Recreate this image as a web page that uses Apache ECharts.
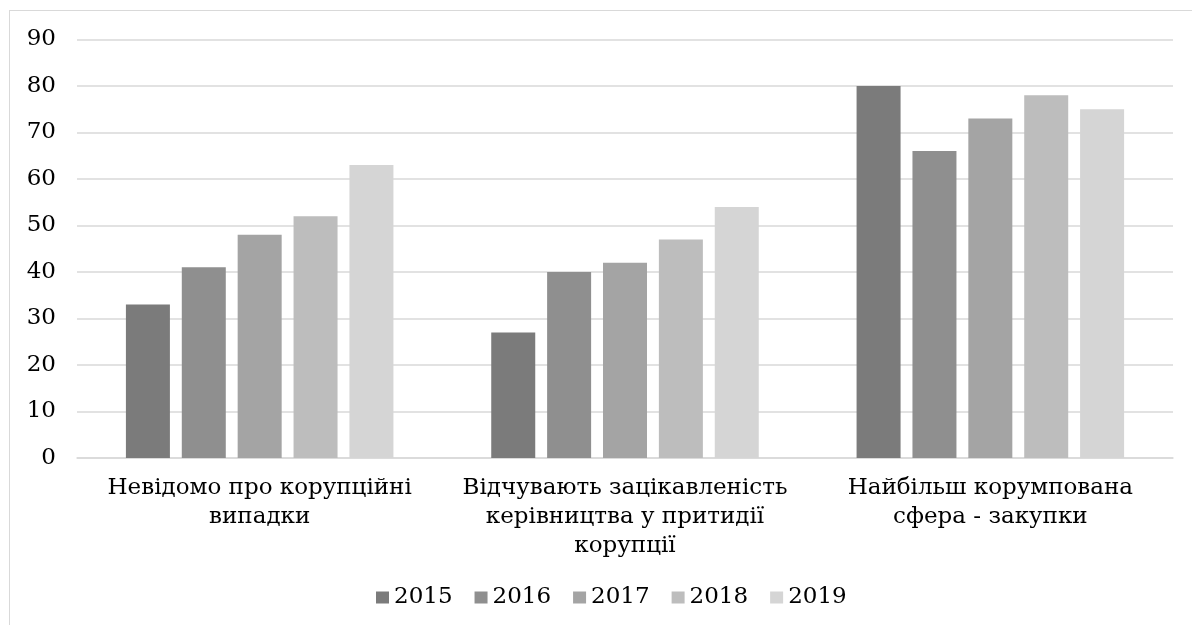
<!DOCTYPE html>
<html>
<head>
<meta charset="utf-8">
<script src="https://cdn.jsdelivr.net/npm/echarts@6/dist/echarts.min.js"></script>
<style>
html,body{margin:0;padding:0;background:#fff;}
#frame{position:absolute;left:9px;top:10px;width:1200px;height:640px;border:1px solid #d9d9d9;box-sizing:border-box;}
#chart{position:absolute;left:0;top:0;width:1192px;height:625px;}
</style>
</head>
<body>
<div id="frame"></div>
<div id="chart"></div>
<script>
const categories = ['Невідомо про корупційні\nвипадки', 'Відчувають зацікавленість\nкерівництва у притидії\nкорупції', 'Найбільш корумпована\nсфера - закупки'];
const seriesNames = ['2015', '2016', '2017', '2018', '2019'];
const v2015 = [33, 27, 80];
const v2016 = [41, 40, 66];
const v2017 = [48, 42, 73];
const v2018 = [52, 47, 78];
const v2019 = [63, 54, 75];
const yTicks = [0, 10, 20, 30, 40, 50, 60, 70, 80, 90];

const values = [v2015, v2016, v2017, v2018, v2019];
const colors = ['#7b7b7b', '#8f8f8f', '#a4a4a4', '#bdbdbd', '#d5d5d5'];
const font = '"DejaVu Serif", "Liberation Serif", serif';

const chart = echarts.init(document.getElementById('chart'));
chart.setOption({
  animation: false,
  color: colors,
  textStyle: {fontFamily: font},
  grid: {left: 77, right: 19, top: 39.5, bottom: 167, containLabel: false},
  legend: {
    top: 581, left: 371,
    itemWidth: 13, itemHeight: 12, itemGap: 22,
    icon: 'rect',
    textStyle: {fontFamily: font, fontSize: 23, color: '#000'},
    data: seriesNames
  },
  xAxis: {
    type: 'category',
    data: categories,
    axisLine: {lineStyle: {color: '#d9d9d9', width: 1.5}},
    axisTick: {show: false},
    axisLabel: {fontFamily: font, fontSize: 23, color: '#000', lineHeight: 29, margin: 16, interval: 0}
  },
  yAxis: {
    type: 'value',
    min: yTicks[0], max: yTicks[yTicks.length - 1], interval: 10,
    axisLine: {show: false},
    axisTick: {show: false},
    splitLine: {lineStyle: {color: '#d9d9d9', width: 1.5}},
    axisLabel: {fontFamily: font, fontSize: 23, color: '#000', margin: 21}
  },
  series: seriesNames.map((n, i) => ({
    name: n, type: 'bar', data: values[i],
    barWidth: 44, barGap: '27%'
  }))
});
</script>
</body>
</html>
